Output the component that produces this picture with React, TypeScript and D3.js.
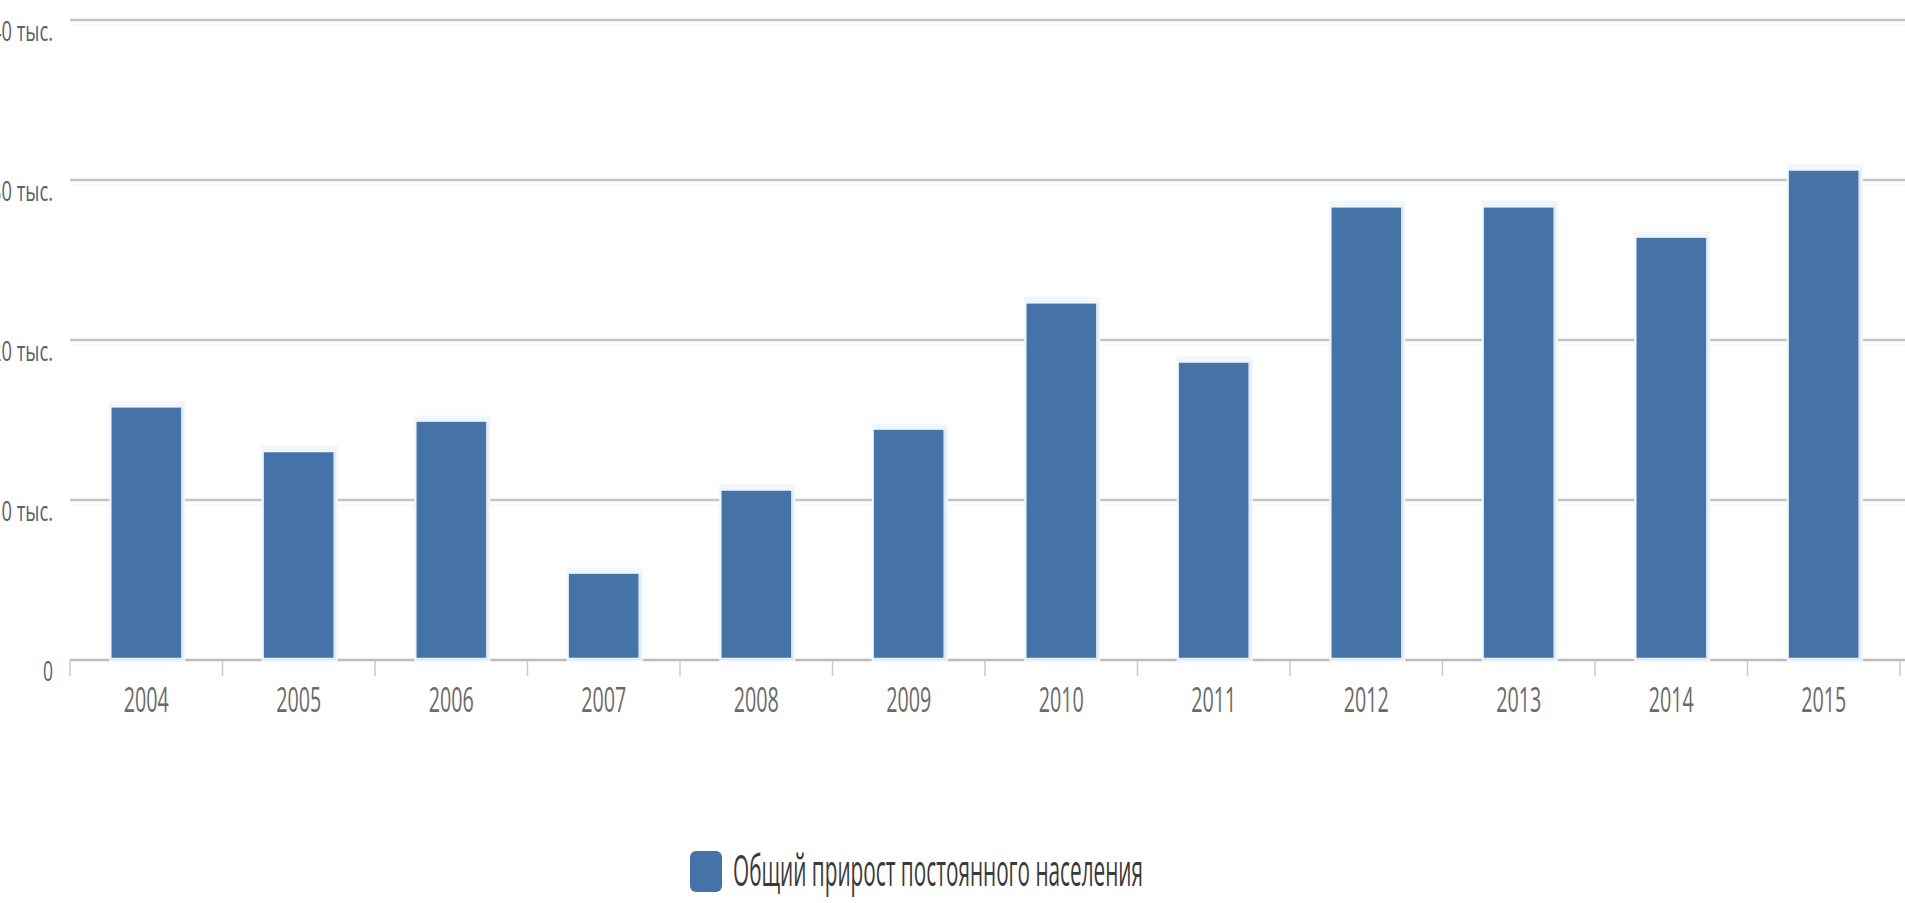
import React from "react";
import * as d3 from "d3";

const years: string[] = ["2004", "2005", "2006", "2007", "2008", "2009", "2010", "2011", "2012", "2013", "2014", "2015"];
const growth: number[] = [15.8, 13.0, 14.9, 5.4, 10.6, 14.4, 22.3, 18.6, 28.3, 28.3, 26.4, 30.6];
const yTicks: number[] = [0, 10, 20, 30, 40];
const yTickLabels: string[] = ["0", "10 тыс.", "20 тыс.", "30 тыс.", "40 тыс."];
const seriesName = "Общий прирост постоянного населения";

const W = 1905;
const H = 903;
const FONT = "'Open Sans', 'Noto Sans', sans-serif";
const BAR = "#4572A7";

export default function App() {
  const x = d3.scaleBand<string>().domain(years).range([70, 1900]).paddingInner(0.54).paddingOuter(0.27);
  const y = d3.scaleLinear().domain([0, 40]).range([660, 20]);
  const step = x.step();
  const boundaries = d3.range(years.length + 1).map((i) => 70 + i * step);

  return (
    <svg width={W} height={H} style={{ position: "fixed", left: 0, top: 0, background: "#fff" }}>
      <rect x={0} y={0} width={W} height={H} fill="#fff" />
      {yTicks.map((t, i) =>
        i === 0 ? null : (
          <g key={"g" + t}>
            <line x1={70} x2={1905} y1={y(t)} y2={y(t)} stroke="#c4c4c4" strokeWidth={2.5} />
            <line x1={70} x2={1905} y1={y(t) + 5} y2={y(t) + 5} stroke="#f3f3f3" strokeWidth={1} />
          </g>
        )
      )}
      <line x1={70} x2={1905} y1={y(0)} y2={y(0)} stroke="#bcbcbc" strokeWidth={2.5} />
      {boundaries.map((bx, i) => (
        <line key={"t" + i} x1={bx} x2={bx} y1={y(0)} y2={y(0) + 16} stroke="#c8c8c8" strokeWidth={1.5} />
      ))}
      {years.map((yr, i) => {
        const bx = x(yr) as number;
        const bw = x.bandwidth();
        const top = y(growth[i]);
        const h = y(0) - top;
        return (
          <g key={yr}>
            <rect x={bx - 2} y={top - 6} width={bw + 6} height={h + 8} fill="#f1f6fb" />
            <rect x={bx} y={top} width={bw + 2} height={h} fill="#dce8f3" />
            <rect x={bx} y={top} width={bw} height={h - 2} fill={BAR} stroke="#ffffff" strokeWidth={0.5} />
          </g>
        );
      })}
      {yTicks.map((t, i) => (
        <text
          key={"yl" + t}
          x={53}
          y={y(t) + 21}
          textAnchor="end"
          fontFamily={FONT}
          fontSize={27}
          fill="#5a6070"
          textLength={i === 0 ? 10 : 62}
          lengthAdjust="spacingAndGlyphs"
        >
          {yTickLabels[i]}
        </text>
      ))}
      {years.map((yr) => (
        <text
          key={"xl" + yr}
          x={(x(yr) as number) + x.bandwidth() / 2}
          y={712}
          textAnchor="middle"
          fontFamily={FONT}
          fontSize={34}
          fill="#6a6a6a"
          textLength={45}
          lengthAdjust="spacingAndGlyphs"
        >
          {yr}
        </text>
      ))}
      <rect x={690} y={851} width={32} height={41} rx={6} ry={6} fill={BAR} />
      <text
        x={733}
        y={886}
        fontFamily={FONT}
        fontSize={44}
        fill="#3a3a3a"
        textLength={410}
        lengthAdjust="spacingAndGlyphs"
      >
        {seriesName}
      </text>
    </svg>
  );
}
